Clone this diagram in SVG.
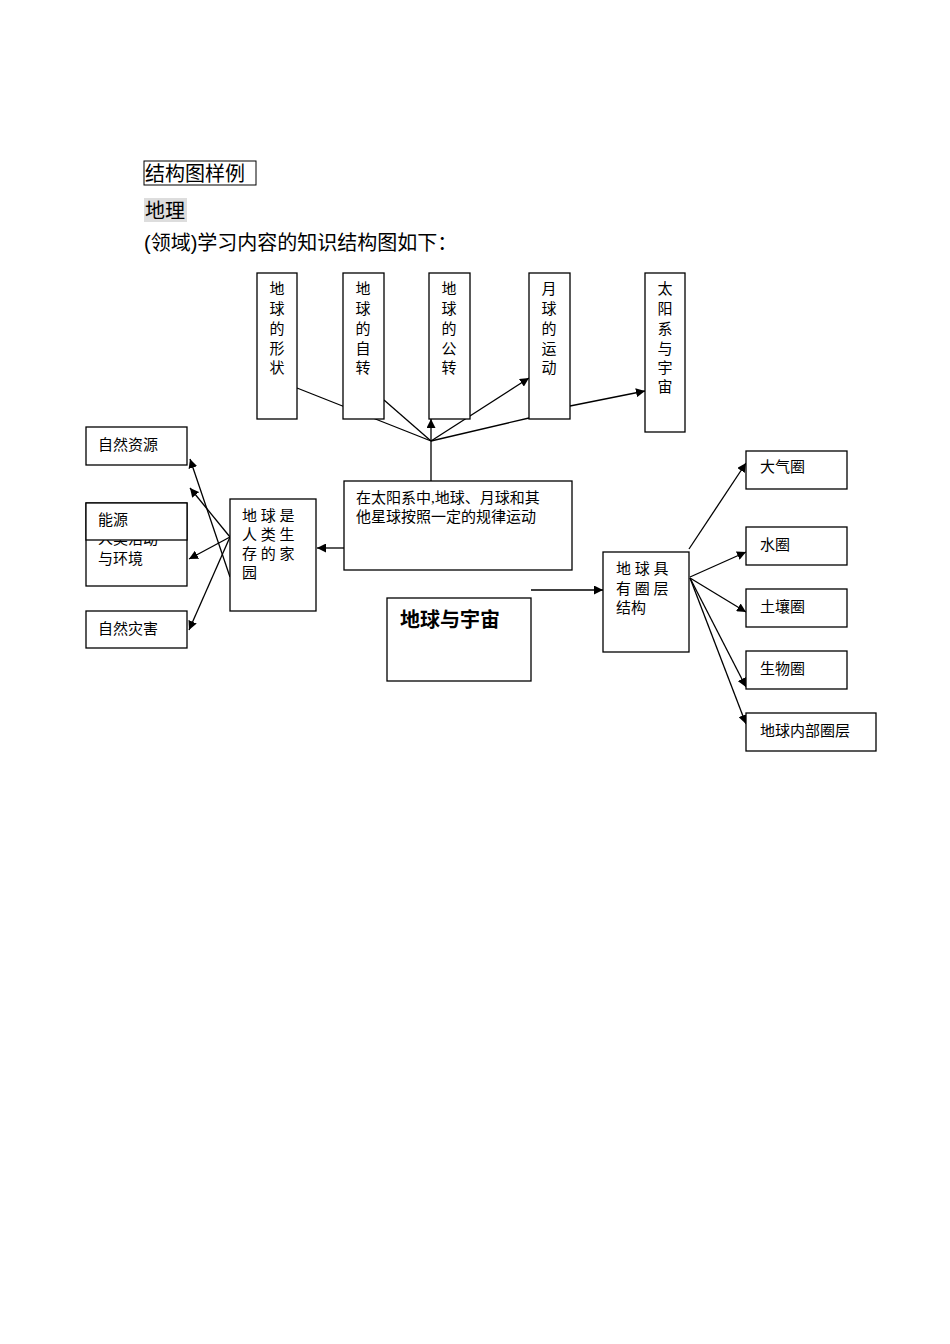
<svg xmlns="http://www.w3.org/2000/svg" width="950" height="1344" viewBox="0 0 950 1344">
<style>
text{font-family:"Liberation Serif","Noto Sans CJK SC",serif;fill:#000}
.b{fill:#fff;stroke:#000;stroke-width:1.3}
.t{font-size:15px}
.h{font-size:20px;font-family:"Liberation Sans","Noto Sans CJK SC",sans-serif}
.c line{stroke:#000;stroke-width:1.3}
.a{marker-end:url(#ar)}
</style>
<defs><marker id="ar" viewBox="0 0 10 10" refX="10" refY="5" markerWidth="9" markerHeight="9" markerUnits="userSpaceOnUse" orient="auto"><path d="M0,0L10,5L0,10z" fill="#000"/></marker></defs>
<rect width="950" height="1344" fill="#fff"/>
<g id="header">
<rect x="144" y="161" width="112" height="24" fill="none" stroke="#000" stroke-width="1"/>
<text class="h" x="145" y="181">结构图样例</text>
<rect x="144" y="198" width="43" height="24" fill="#ddd"/>
<text class="h" x="145" y="218">地理</text>
<text class="h" x="144" y="250">(领域)学习内容的知识结构图如下：</text>
</g>
<g class="c" id="connectors">
<line x1="297" y1="388" x2="431" y2="441"/>
<line x1="384" y1="400" x2="431" y2="441"/>
<line class="a" x1="431" y1="481" x2="431" y2="419"/>
<line class="a" x1="431" y1="441" x2="529" y2="378"/>
<line x1="431" y1="441" x2="529" y2="418"/>
<line class="a" x1="570" y1="406" x2="645" y2="391"/>
<line class="a" x1="344" y1="548" x2="317" y2="548"/>
<line class="a" x1="230" y1="577" x2="190" y2="459"/>
<line class="a" x1="230" y1="537" x2="190" y2="488"/>
<line class="a" x1="230" y1="537" x2="189" y2="559"/>
<line class="a" x1="230" y1="537" x2="189" y2="630"/>
<line class="a" x1="531" y1="590" x2="603" y2="590"/>
<line class="a" x1="689" y1="549" x2="746" y2="463"/>
<line class="a" x1="690" y1="577" x2="746" y2="552"/>
<line class="a" x1="690" y1="578" x2="746" y2="612"/>
<line class="a" x1="690" y1="578" x2="746" y2="687"/>
<line class="a" x1="690" y1="578" x2="746" y2="724"/>
</g>
<g id="n1"><rect class="b" x="257" y="273" width="40" height="146"/><text class="t" x="277" text-anchor="middle"><tspan x="277" y="294">地</tspan><tspan x="277" y="314">球</tspan><tspan x="277" y="334">的</tspan><tspan x="277" y="354">形</tspan><tspan x="277" y="373">状</tspan></text></g>
<g id="n2"><rect class="b" x="343" y="273" width="41" height="146"/><text class="t" text-anchor="middle"><tspan x="363" y="294">地</tspan><tspan x="363" y="314">球</tspan><tspan x="363" y="334">的</tspan><tspan x="363" y="354">自</tspan><tspan x="363" y="373">转</tspan></text></g>
<g id="n3"><rect class="b" x="429" y="273" width="41" height="146"/><text class="t" text-anchor="middle"><tspan x="449" y="294">地</tspan><tspan x="449" y="314">球</tspan><tspan x="449" y="334">的</tspan><tspan x="449" y="354">公</tspan><tspan x="449" y="373">转</tspan></text></g>
<g id="n4"><rect class="b" x="529" y="273" width="41" height="146"/><text class="t" text-anchor="middle"><tspan x="549" y="294">月</tspan><tspan x="549" y="314">球</tspan><tspan x="549" y="334">的</tspan><tspan x="549" y="354">运</tspan><tspan x="549" y="373">动</tspan></text></g>
<g id="n5"><rect class="b" x="645" y="273" width="40" height="159"/><text class="t" text-anchor="middle"><tspan x="665" y="294">太</tspan><tspan x="665" y="314">阳</tspan><tspan x="665" y="334">系</tspan><tspan x="665" y="354">与</tspan><tspan x="665" y="373">宇</tspan><tspan x="665" y="392">宙</tspan></text></g>
<g id="center"><rect class="b" x="344" y="481" width="228" height="89"/><text class="t"><tspan x="356" y="503">在太阳系中,地球、月球和其</tspan><tspan x="356" y="522">他星球按照一定的规律运动</tspan></text></g>
<g id="home"><rect class="b" x="230" y="499" width="86" height="112"/><text class="t"><tspan x="242" y="521">地  球  是</tspan><tspan x="242" y="540">人  类  生</tspan><tspan x="242" y="559">存  的  家</tspan><tspan x="242" y="578">园</tspan></text></g>
<g id="ziyuan"><rect class="b" x="86" y="427" width="101" height="38"/><text class="t" x="98" y="450">自然资源</text></g>
<g id="huanjing"><rect class="b" x="86" y="503" width="101" height="83"/><text class="t"><tspan x="98" y="544">人类活动</tspan><tspan x="98" y="564">与环境</tspan></text></g>
<g id="nengyuan"><rect class="b" x="86" y="503" width="101" height="37"/><text class="t" x="98" y="525">能源</text></g>
<g id="zaihai"><rect class="b" x="86" y="611" width="101" height="37"/><text class="t" x="98" y="634">自然灾害</text></g>
<g id="root"><rect class="b" x="387" y="598" width="144" height="83"/><text x="400" y="627" style="font-size:20px;font-weight:bold;font-family:'Liberation Sans','Noto Sans CJK SC',sans-serif">地球与宇宙</text></g>
<g id="quanceng"><rect class="b" x="603" y="552" width="86" height="100"/><text class="t"><tspan x="616" y="574">地  球  具</tspan><tspan x="616" y="594">有  圈  层</tspan><tspan x="616" y="613">结构</tspan></text></g>
<g id="daqi"><rect class="b" x="746" y="451" width="101" height="38"/><text class="t" x="760" y="472">大气圈</text></g>
<g id="shui"><rect class="b" x="746" y="527" width="101" height="38"/><text class="t" x="760" y="550">水圈</text></g>
<g id="turang"><rect class="b" x="746" y="589" width="101" height="38"/><text class="t" x="760" y="612">土壤圈</text></g>
<g id="shengwu"><rect class="b" x="746" y="651" width="101" height="38"/><text class="t" x="760" y="674">生物圈</text></g>
<g id="neibu"><rect class="b" x="746" y="713" width="130" height="38"/><text class="t" x="760" y="736">地球内部圈层</text></g>
</svg>
